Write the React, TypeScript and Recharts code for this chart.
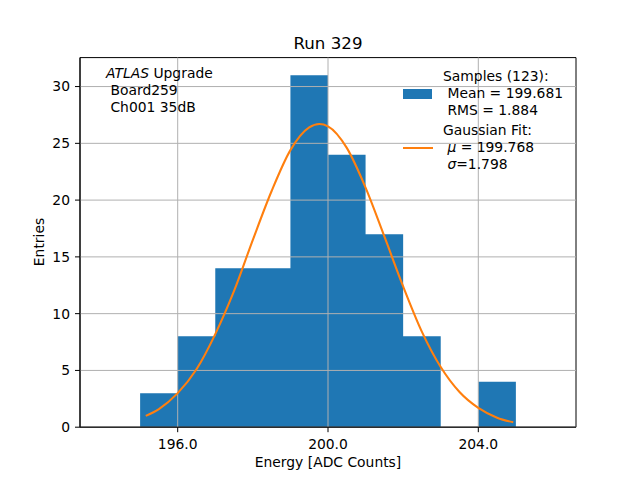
import React from 'react';
import {
  Area,
  CartesianGrid,
  ComposedChart,
  Line,
  ReferenceArea,
  XAxis,
  YAxis,
} from 'recharts';

// histogram: bin edges and counts per bin (last edge closes the final bin)
const binEdges = [194, 195, 196, 197, 198, 199, 200, 201, 202, 203, 204, 205, 206];
const binCounts = [0, 3, 8, 14, 14, 31, 24, 17, 8, 0, 4, 0];

// gaussian fit curve
const fitX = [
  195.15, 195.5, 196, 196.5, 197, 197.5, 198, 198.5, 199, 199.5, 199.77, 200, 200.5, 201,
  201.5, 202, 202.5, 203, 203.5, 204, 204.5, 204.93,
];
const fitY = [
  1.0, 1.6, 3.0, 5.1, 8.2, 12.0, 16.5, 20.8, 24.4, 26.4, 26.7, 26.5, 24.6, 21.1, 16.8, 12.4,
  8.4, 5.3, 3.1, 1.7, 0.84, 0.43,
];

const xTicks = [196, 200, 204];
const yTicks = [0, 5, 10, 15, 20, 25, 30];
const xDomain: [number, number] = [193.4, 206.6];
const yDomain: [number, number] = [0, 32.55];

const histData = binEdges.map((x, i) => ({ x, count: binCounts[i] ?? 0 }));
const fitData = fitX.map((x, i) => ({ x, fit: fitY[i] }));

const FONT = '"DejaVu Sans", sans-serif';
const FS = 13.89;
const BLUE = '#1f77b4';
const ORANGE = '#ff7f0e';

const txt: React.CSSProperties = {
  position: 'absolute',
  fontFamily: FONT,
  fontSize: FS,
  color: '#000',
  whiteSpace: 'pre',
  lineHeight: '17px',
};

export default function App() {
  return (
    <div
      style={{
        position: 'absolute',
        left: 0,
        top: 0,
        width: 640,
        height: 480,
        background: '#fff',
        fontFamily: FONT,
      }}
    >
      <ComposedChart
        width={640}
        height={480}
        data={histData}
        margin={{ top: 57.6, right: 64, bottom: 22.8, left: 20 }}
      >
        <Area
          type="stepAfter"
          dataKey="count"
          fill={BLUE}
          fillOpacity={1}
          stroke="none"
          isAnimationActive={false}
          zIndex={100}
        />
        <CartesianGrid
          stroke="#b0b0b0"
          strokeWidth={1}
          horizontalValues={yTicks}
          verticalValues={xTicks}
          zIndex={150}
        />
        <XAxis
          dataKey="x"
          type="number"
          domain={xDomain}
          allowDataOverflow
          ticks={xTicks}
          tickFormatter={(v: number) => v.toFixed(1)}
          height={30}
          tickSize={5}
          tickMargin={7}
          stroke="#000"
          tick={{ fill: '#000', fontSize: FS, fontFamily: FONT }}
        />
        <YAxis
          type="number"
          domain={yDomain}
          allowDataOverflow
          ticks={yTicks}
          width={60}
          tickSize={5}
          tickMargin={5}
          stroke="#000"
          tick={{ fill: '#000', fontSize: FS, fontFamily: FONT }}
        />
        <Line
          data={fitData}
          type="monotone"
          dataKey="fit"
          stroke={ORANGE}
          strokeWidth={2.08}
          dot={false}
          isAnimationActive={false}
          zIndex={400}
        />
        <ReferenceArea
          x1={xDomain[0]}
          x2={xDomain[1]}
          y1={yDomain[0]}
          y2={yDomain[1]}
          fill="none"
          fillOpacity={0}
          stroke="#000"
          strokeWidth={1}
          ifOverflow="visible"
        />
      </ComposedChart>

      {/* title and axis labels */}
      <div style={{ ...txt, fontSize: 16.67, left: 328, top: 43, transform: 'translate(-50%, -50%)' }}>
        Run 329
      </div>
      <div style={{ ...txt, left: 328, top: 462, transform: 'translate(-50%, -50%)' }}>
        Energy [ADC Counts]
      </div>
      <div style={{ ...txt, left: 39, top: 242, transform: 'translate(-50%, -50%) rotate(-90deg)' }}>
        Entries
      </div>

      {/* annotation */}
      <div style={{ ...txt, left: 106, top: 65 }}>
        <i>ATLAS</i> Upgrade{'\n'} Board259{'\n'} Ch001 35dB
      </div>

      {/* legend */}
      <div style={{ position: 'absolute', left: 403, top: 68 }}>
        <div style={{ display: 'flex', alignItems: 'center' }}>
          <div style={{ width: 29, height: 10, background: BLUE, marginRight: 11 }} />
          <div style={{ ...txt, position: 'static' }}>
            Samples (123):{'\n'} Mean = 199.681{'\n'} RMS = 1.884
          </div>
        </div>
        <div style={{ display: 'flex', alignItems: 'center', marginTop: 3 }}>
          <div style={{ width: 30, height: 2, background: ORANGE, marginRight: 10 }} />
          <div style={{ ...txt, position: 'static' }}>
            Gaussian Fit:{'\n'} <i>μ</i> = 199.768{'\n'} <i>σ</i>=1.798
          </div>
        </div>
      </div>
    </div>
  );
}
